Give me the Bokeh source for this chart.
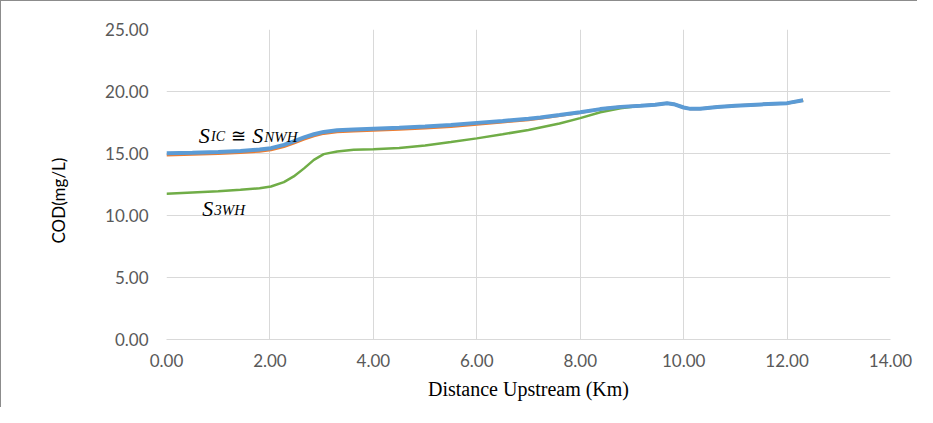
from bokeh.plotting import figure
from bokeh.models import Range1d, FixedTicker, Label, Title, CustomJSTickFormatter
from bokeh.embed import file_html
from bokeh.resources import INLINE

# ---- data ----
distance = [0, 0.5, 1.0, 1.43, 1.8, 2.02, 2.27, 2.46, 2.66, 2.85, 3.04, 3.3, 3.62, 4.0,
            4.5, 5.0, 5.5, 6.0, 6.5, 7.0, 7.23, 7.6, 8.0, 8.39, 8.78, 9.17, 9.45, 9.68,
            9.81, 10.0, 10.13, 10.32, 10.65, 11.0, 11.5, 12.0, 12.31]
s_ic = [15.02, 15.07, 15.13, 15.21, 15.32, 15.43, 15.7, 15.98, 16.3, 16.55, 16.74, 16.87,
        16.94, 17.0, 17.07, 17.17, 17.3, 17.47, 17.63, 17.8, 17.9, 18.1, 18.33, 18.58,
        18.76, 18.85, 18.93, 19.06, 18.98, 18.71, 18.6, 18.6, 18.75, 18.86, 18.96, 19.06,
        19.3]
s_nwh = [14.87, 14.93, 15.0, 15.08, 15.19, 15.3, 15.56, 15.84, 16.16, 16.42, 16.62, 16.75,
         16.82, 16.88, 16.95, 17.05, 17.18, 17.36, 17.54, 17.73, 17.84, 18.06, 18.31, 18.58,
         18.76, 18.85, 18.93, 19.06, 18.98, 18.71, 18.6, 18.6, 18.75, 18.86, 18.96, 19.06,
         19.3]
s_3wh = [11.75, 11.85, 11.95, 12.07, 12.2, 12.34, 12.69, 13.15, 13.8, 14.49, 14.95, 15.16,
         15.3, 15.35, 15.45, 15.65, 15.92, 16.22, 16.55, 16.9, 17.1, 17.42, 17.85, 18.33,
         18.65, 18.85, 18.93, 19.06, 18.98, 18.71, 18.6, 18.6, 18.75, 18.86, 18.96, 19.06,
         19.3]
x_ticks = [0, 2, 4, 6, 8, 10, 12, 14]
y_ticks = [0, 5, 10, 15, 20, 25]

p = figure(width=917, height=407, output_backend="svg", toolbar_location=None,
           x_range=Range1d(0, 14), y_range=Range1d(0, 25),
           min_border_left=165, min_border_right=28, min_border_top=28, min_border_bottom=69,
           styles={"border-top": "1px solid #8c8c8c", "border-left": "1px solid #8c8c8c",
                   "box-sizing": "border-box"})
p.outline_line_color = None
p.background_fill_color = "white"
p.border_fill_color = "white"

for ax in (p.xaxis[0], p.yaxis[0]):
    ax.major_tick_in = 0
    ax.major_tick_out = 0
    ax.minor_tick_in = 0
    ax.minor_tick_out = 0
    ax.major_label_text_font = "Lato"
    ax.major_label_text_font_size = "17px"
    ax.major_label_text_color = "#595959"
    ax.formatter = CustomJSTickFormatter(code="return tick.toFixed(2);")

p.xaxis.ticker = FixedTicker(ticks=x_ticks)
p.yaxis.ticker = FixedTicker(ticks=y_ticks)
p.xaxis.axis_line_color = "#d9d9d9"
p.yaxis.axis_line_color = None
p.xaxis.major_label_standoff = 14
p.yaxis.major_label_standoff = 18

p.xaxis.axis_label = "Distance Upstream (Km)"
p.xaxis.axis_label_text_font = "Liberation Serif"
p.xaxis.axis_label_text_font_style = "normal"
p.xaxis.axis_label_text_font_size = "20px"
p.xaxis.axis_label_text_color = "black"
p.xaxis.axis_label_standoff = 8

# y-axis title, a little below the frame centre as in the reference
p.add_layout(Title(text="COD(mg/L)", align="left", offset=96, standoff=68,
                   text_font="Lato", text_font_size="17px", text_font_style="normal",
                   text_color="black"), "left")

p.xgrid.ticker = FixedTicker(ticks=x_ticks)
p.ygrid.ticker = FixedTicker(ticks=y_ticks)
p.xgrid.grid_line_color = "#d9d9d9"
p.ygrid.grid_line_color = "#d9d9d9"

p.line(distance, s_3wh, line_color="#70ad47", line_width=2.5)
p.line(distance, s_nwh, line_color="#ed7d31", line_width=3)
p.line(distance, s_ic, line_color="#5b9bd5", line_width=4)

def lab(x, y, t, size, font="Liberation Serif", style="italic"):
    p.add_layout(Label(x=x, y=y, text=t, text_font=font, text_font_size=size,
                       text_font_style=style, text_color="black",
                       text_baseline="alphabetic", text_align="left"))

lab(0.625, 16.45, "S", "22px")
lab(0.86, 16.37, "IC", "14px")
lab(1.238, 16.45, "\u2245", "18px", font="DejaVu Serif", style="normal")
lab(1.657, 16.45, "S", "22px")
lab(1.89, 16.37, "NWH", "15px")
lab(0.69, 10.59, "S", "22px")
lab(0.925, 10.46, "3WH", "15px")

open("out.html", "w").write(file_html(p, INLINE))
